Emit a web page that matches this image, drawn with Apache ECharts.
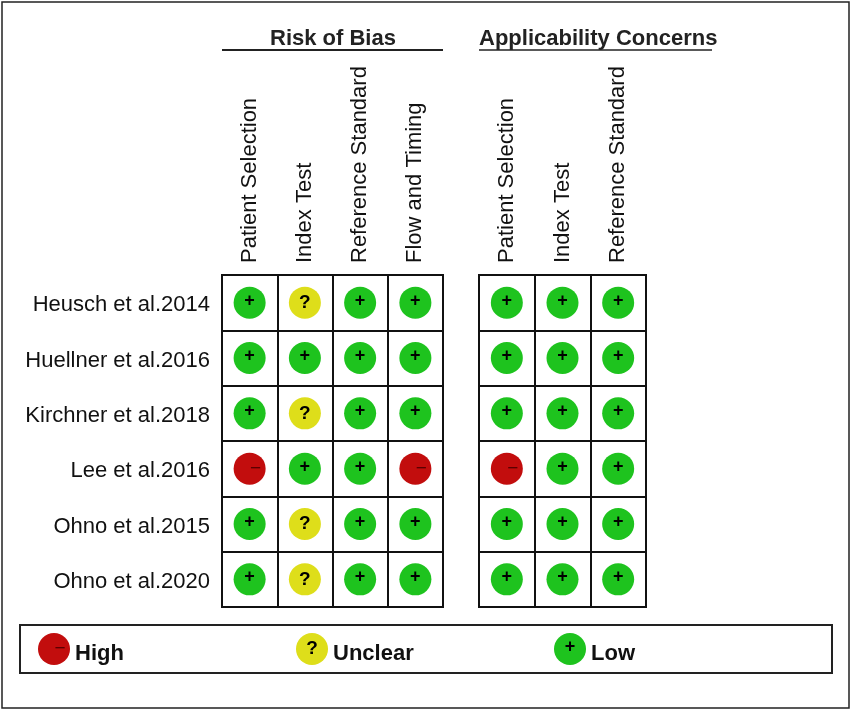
<!DOCTYPE html>
<html>
<head>
<meta charset="utf-8">
<script src="https://cdn.jsdelivr.net/npm/echarts@6/dist/echarts.min.js"></script>
<style>
  html, body { margin: 0; padding: 0; background: #fff; }
  #main { width: 851px; height: 711px; }
</style>
</head>
<body>
<div id="main"></div>
<script>
// studies (rows) and QUADAS-2 domains (columns)
var studies = ['Heusch et al.2014', 'Huellner et al.2016', 'Kirchner et al.2018', 'Lee et al.2016', 'Ohno et al.2015', 'Ohno et al.2020'];
var biasDomains = ['Patient Selection', 'Index Test', 'Reference Standard', 'Flow and Timing'];
var applicDomains = ['Patient Selection', 'Index Test', 'Reference Standard'];
var levels = ['High', 'Unclear', 'Low'];

// judgement per study, one entry per domain
var biasRatings = [
    ['Low', 'Unclear', 'Low', 'Low'],
    ['Low', 'Low', 'Low', 'Low'],
    ['Low', 'Unclear', 'Low', 'Low'],
    ['High', 'Low', 'Low', 'High'],
    ['Low', 'Unclear', 'Low', 'Low'],
    ['Low', 'Unclear', 'Low', 'Low']
];
var applicRatings = [
    ['Low', 'Low', 'Low'],
    ['Low', 'Low', 'Low'],
    ['Low', 'Low', 'Low'],
    ['High', 'Low', 'Low'],
    ['Low', 'Low', 'Low'],
    ['Low', 'Low', 'Low']
];

var colors = { High: '#c20d0d', Unclear: '#dede1a', Low: '#1ec31e' };
var glyphs = { High: '\u2212', Unclear: '?', Low: '+' };
var FONT = 'Liberation Sans, Arial, sans-serif';

var myChart = echarts.init(document.getElementById('main'), null, { renderer: 'canvas' });

function glyphLabel(level) {
    var lab = {
        show: true,
        position: 'inside',
        formatter: glyphs[level],
        color: '#000',
        fontFamily: FONT,
        fontWeight: 'bold',
        fontSize: level == 'Unclear' ? 19 : 18
    };
    if (level == 'High') {
        lab.color = '#5c0000';
        lab.fontSize = 19;
        lab.fontWeight = 'normal';
        lab.offset = [6, 0];
    } else if (level == 'Low') {
        lab.offset = [0, -2];
    } else {
        lab.offset = [0, 0];
    }
    return lab;
}

// one scatter series per level and per panel
var series = [];
[[biasRatings, biasDomains], [applicRatings, applicDomains]].forEach(function (panel, g) {
    levels.forEach(function (level) {
        var pts = [];
        panel[0].forEach(function (row, r) {
            row.forEach(function (v, c) {
                if (v == level) pts.push([panel[1][c], studies[r]]);
            });
        });
        series.push({
            name: level,
            type: 'scatter',
            xAxisIndex: g,
            yAxisIndex: g,
            symbol: 'circle',
            symbolSize: 32,
            itemStyle: { color: colors[level], opacity: 1 },
            label: glyphLabel(level),
            emphasis: { disabled: true },
            data: pts
        });
    });
});

var cellLine = { show: true, lineStyle: { color: '#111', width: 2 } };

function xAxis(g, data) {
    return {
        gridIndex: g,
        type: 'category',
        position: 'top',
        data: data,
        axisLine: { show: false },
        axisTick: { show: false },
        axisLabel: { rotate: -90, margin: 12, fontSize: 22, color: '#111', fontFamily: FONT, interval: 0 },
        splitLine: cellLine
    };
}
function yAxis(g, showLabel) {
    return {
        gridIndex: g,
        type: 'category',
        inverse: true,
        data: studies,
        axisLine: { show: false },
        axisTick: { show: false },
        axisLabel: {
            show: showLabel, margin: 12, interval: 0,
            formatter: '{s|{value}}',
            rich: { s: { fontSize: 22, color: '#111', fontFamily: FONT, padding: [5, 0, 0, 0] } }
        },
        splitLine: cellLine
    };
}

var legends = [];
var legendLeft = [38, 296, 554];
levels.forEach(function (level, i) {
    legends.push({
        data: [level],
        left: legendLeft[i],
        top: 633,
        padding: 0,
        itemWidth: 32,
        itemHeight: 32,
        icon: 'circle',
        selectedMode: false,
        formatter: '{t|{name}}',
        textStyle: {
            rich: { t: { fontSize: 22, fontWeight: 'bold', color: '#111', fontFamily: FONT, padding: [9, 0, 0, 0] } }
        }
    });
});

// glyph on top of legend icons
var legendGlyphs = levels.map(function (level, i) {
    var lab = glyphLabel(level);
    return {
        type: 'text',
        z: 100,
        x: legendLeft[i] + 16 + (lab.offset[0]),
        y: 649 + (lab.offset[1]),
        style: {
            text: glyphs[level],
            fill: lab.color,
            font: (lab.fontWeight == 'bold' ? 'bold ' : '') + lab.fontSize + 'px ' + FONT,
            textAlign: 'center',
            textVerticalAlign: 'middle'
        }
    };
});

var option = {
    backgroundColor: '#fff',
    animation: false,
    title: [
        { text: 'Risk of Bias', left: 270, top: 28, padding: 0,
          textStyle: { fontSize: 22, fontWeight: 'bold', color: '#222', fontFamily: FONT } },
        { text: 'Applicability Concerns', left: 479, top: 28, padding: 0,
          textStyle: { fontSize: 22, fontWeight: 'bold', color: '#222', fontFamily: FONT } }
    ],
    legend: legends,
    grid: [
        { left: 222, top: 275, width: 221, height: 332, show: true, borderColor: '#111', borderWidth: 2 },
        { left: 479, top: 275, width: 167, height: 332, show: true, borderColor: '#111', borderWidth: 2 }
    ],
    xAxis: [xAxis(0, biasDomains), xAxis(1, applicDomains)],
    yAxis: [yAxis(0, true), yAxis(1, false)],
    series: series,
    graphic: [
        { type: 'rect', shape: { x: 2, y: 2, width: 847, height: 706 },
          style: { fill: null, stroke: '#222', lineWidth: 1.5 }, silent: true },
        { type: 'rect', shape: { x: 20, y: 625, width: 812, height: 48 },
          style: { fill: null, stroke: '#222', lineWidth: 2 }, silent: true },
        { type: 'line', shape: { x1: 222, y1: 50, x2: 443, y2: 50 },
          style: { stroke: '#222', lineWidth: 2 }, silent: true },
        { type: 'line', shape: { x1: 479, y1: 50, x2: 712, y2: 50 },
          style: { stroke: '#222', lineWidth: 1.5 }, silent: true }
    ].concat(legendGlyphs)
};

myChart.setOption(option);
</script>
</body>
</html>
